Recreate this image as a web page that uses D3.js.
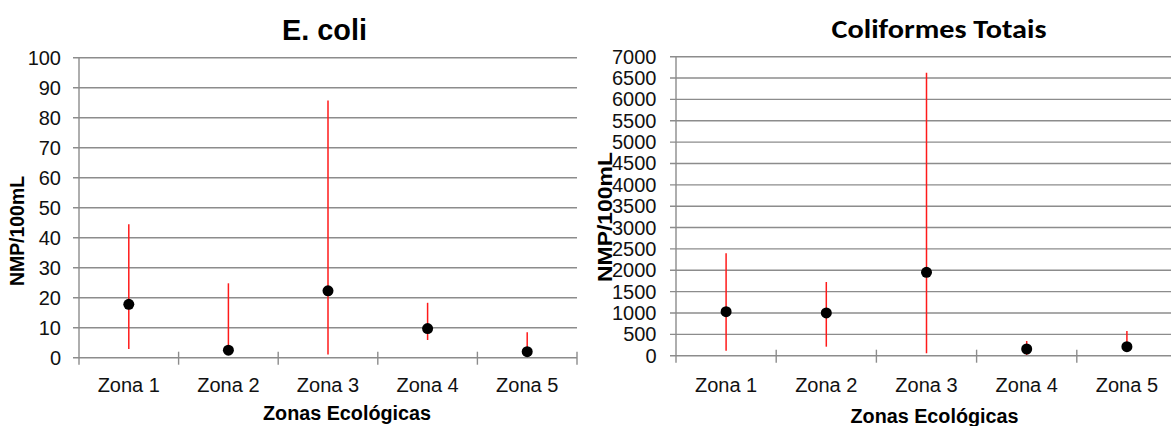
<!DOCTYPE html>
<html>
<head>
<meta charset="utf-8">
<script src="https://cdn.jsdelivr.net/npm/d3@7"></script>
<style>
  html, body { margin: 0; padding: 0; background: #fff; }
  svg { display: block; }
  .arial { font-family: "Liberation Sans", Arial, Helvetica, sans-serif; }
  .cal { font-family: Carlito, Lato, sans-serif; }
</style>
</head>
<body>
<svg id="chart" width="1171" height="426"></svg>
<script>
const zones = ["Zona 1", "Zona 2", "Zona 3", "Zona 4", "Zona 5"];

const ecoliMean = [17.8, 2.5, 22.3, 9.7, 2.0];
const ecoliLow  = [2.9, 1.0, 1.1, 5.9, 0.8];
const ecoliHigh = [44.5, 24.8, 85.7, 18.3, 8.5];
const ecoliTicks = [0, 10, 20, 30, 40, 50, 60, 70, 80, 90, 100];

const colMean = [1030, 1000, 1952, 157, 211];
const colLow  = [117, 211, 56, 16, 150];
const colHigh = [2397, 1725, 6625, 344, 578];
const colTicks = [0, 500, 1000, 1500, 2000, 2500, 3000, 3500, 4000, 4500, 5000, 5500, 6000, 6500, 7000];

const svg = d3.select("#chart");
const gridColor = "#8c8c8c";
const textColor = "#111";

function panel(cfg) {
  const x = d3.scaleBand().domain(zones).range([cfg.x0, cfg.x1]).padding(0);
  const y = d3.scaleLinear().domain([0, d3.max(cfg.ticks)]).range([cfg.y0, cfg.y1]);
  const g = svg.append("g");

  g.append("g").selectAll("line").data(cfg.ticks).join("line")
    .attr("x1", cfg.x0 - 6).attr("x2", cfg.x1)
    .attr("y1", d => y(d)).attr("y2", d => y(d))
    .attr("stroke", gridColor).attr("stroke-width", 1.4);

  g.append("line")
    .attr("x1", cfg.x0).attr("x2", cfg.x0)
    .attr("y1", y(d3.max(cfg.ticks))).attr("y2", cfg.y0 + 7)
    .attr("stroke", gridColor).attr("stroke-width", 1.4);

  const bounds = zones.map(z => x(z)).concat([cfg.x1]).slice(1);
  g.append("g").selectAll("line").data(bounds).join("line")
    .attr("x1", d => d).attr("x2", d => d)
    .attr("y1", cfg.y0 - 6).attr("y2", cfg.y0 + 7)
    .attr("stroke", gridColor).attr("stroke-width", 1.4);

  g.append("g").selectAll("text").data(cfg.ticks).join("text")
    .attr("class", "arial")
    .attr("x", cfg.labelX).attr("y", d => y(d) + 7)
    .attr("text-anchor", "end")
    .attr("font-size", 20).attr("fill", textColor)
    .text(d => d);

  g.append("g").selectAll("text").data(zones).join("text")
    .attr("class", "arial")
    .attr("x", d => x(d) + x.bandwidth() / 2).attr("y", cfg.xLabelY)
    .attr("text-anchor", "middle")
    .attr("font-size", 20).attr("fill", textColor)
    .text(d => d);

  g.append("g").selectAll("line").data(zones).join("line")
    .attr("x1", d => x(d) + x.bandwidth() / 2).attr("x2", d => x(d) + x.bandwidth() / 2)
    .attr("y1", (d, i) => y(cfg.low[i])).attr("y2", (d, i) => y(cfg.high[i]))
    .attr("stroke", "#ff1a1a").attr("stroke-width", 1.5);

  g.append("g").selectAll("circle").data(zones).join("circle")
    .attr("cx", d => x(d) + x.bandwidth() / 2)
    .attr("cy", (d, i) => y(cfg.mean[i]))
    .attr("r", 5.5).attr("fill", "#000");

  g.append("text")
    .attr("class", cfg.titleClass)
    .attr("x", cfg.titleX).attr("y", cfg.titleY)
    .attr("text-anchor", "middle")
    .attr("font-weight", "bold")
    .attr("font-size", cfg.titleSize).attr("fill", "#000")
    .attr("textLength", cfg.titleLen).attr("lengthAdjust", "spacingAndGlyphs")
    .text(cfg.title);

  g.append("text")
    .attr("class", "arial")
    .attr("transform", `translate(${cfg.yTitleX},${cfg.yTitleY}) rotate(-90)`)
    .attr("text-anchor", "middle")
    .attr("font-weight", "bold")
    .attr("font-size", cfg.yTitleSize).attr("fill", "#000")
    .attr("textLength", cfg.yTitleLen).attr("lengthAdjust", "spacingAndGlyphs")
    .text("NMP/100mL");

  g.append("text")
    .attr("class", "arial")
    .attr("x", cfg.xTitleX).attr("y", cfg.xTitleY)
    .attr("text-anchor", "middle")
    .attr("font-weight", "bold")
    .attr("font-size", 20).attr("fill", "#000")
    .attr("textLength", 168).attr("lengthAdjust", "spacingAndGlyphs")
    .text("Zonas Ecológicas");
}

panel({
  x0: 79, x1: 577, y0: 357.7, y1: 57.7,
  ticks: ecoliTicks, mean: ecoliMean, low: ecoliLow, high: ecoliHigh,
  labelX: 61, xLabelY: 391.5,
  title: "E. coli", titleX: 324.5, titleY: 40, titleSize: 29, titleLen: 85,
  titleClass: "arial",
  yTitleX: 24, yTitleY: 231, yTitleSize: 20, yTitleLen: 110,
  xTitleX: 347, xTitleY: 420
});

panel({
  x0: 676, x1: 1177, y0: 355.7, y1: 56.7,
  ticks: colTicks, mean: colMean, low: colLow, high: colHigh,
  labelX: 656.5, xLabelY: 392,
  title: "Coliformes Totais", titleX: 939, titleY: 37.7, titleSize: 27, titleLen: 215,
  titleClass: "cal",
  yTitleX: 612, yTitleY: 217, yTitleSize: 20, yTitleLen: 130,
  xTitleX: 934.5, xTitleY: 423
});
</script>
</body>
</html>
